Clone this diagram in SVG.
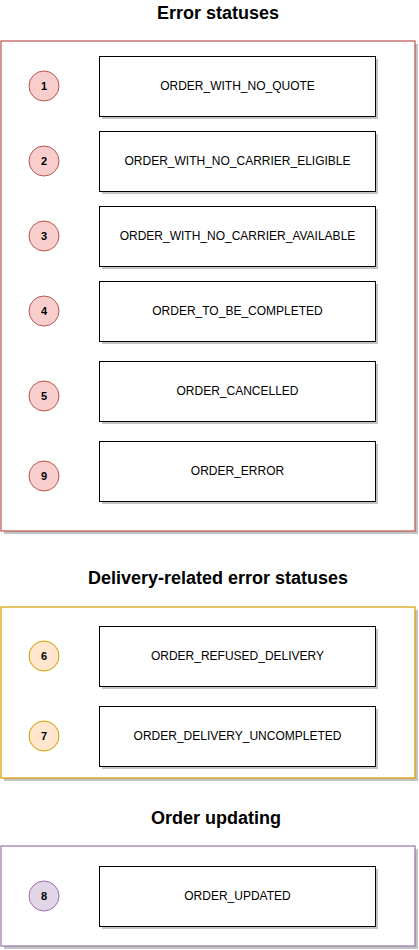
<svg xmlns="http://www.w3.org/2000/svg" width="419" height="950" viewBox="0 0 419 950">
<style>
.title{font-family:"Liberation Sans",Arial,sans-serif;font-weight:bold;font-size:18px;text-anchor:middle;fill:#000}
.lbl{font-family:"Liberation Sans",Arial,sans-serif;font-size:12px;text-anchor:middle;dominant-baseline:central;fill:#000}
.num{font-family:"Liberation Sans",Arial,sans-serif;font-weight:bold;font-size:11px;text-anchor:middle;dominant-baseline:central;fill:#000}
.box{fill:#fff;stroke:#000;stroke-width:1}
.shadow{fill:#c4c4c4}
.frame{fill:#fff;stroke-width:1.2}
.cr{fill:#f8cecc;stroke:#b85450}
.co{fill:#ffe6cc;stroke:#d79b00}
.cp{fill:#e1d5e7;stroke:#9673a6}
</style>
<text class="title" x="218" y="19">Error statuses</text>
<text class="title" x="218" y="584">Delivery-related error statuses</text>
<text class="title" x="216" y="824">Order updating</text>

<g id="frame-errors">
<rect class="shadow" x="4" y="44" width="414" height="490"/>
<rect class="frame" x="1" y="41" width="414" height="490" stroke="#b85450"/>
</g>
<g id="frame-delivery">
<rect class="shadow" x="4" y="610" width="414" height="171"/>
<rect class="frame" x="1" y="607" width="414" height="171" stroke="#d79b00"/>
</g>
<g id="frame-updating">
<rect class="shadow" x="4" y="849" width="414" height="100"/>
<rect class="frame" x="1" y="846" width="414" height="100" stroke="#9673a6"/>
</g>

<g id="connectors"></g>

<g id="n1"><rect class="shadow" x="102" y="59" width="276" height="60"/><rect class="box" x="99.5" y="56.5" width="276" height="60"/><text class="lbl" x="237.5" y="86">ORDER_WITH_NO_QUOTE</text></g>
<g id="c1"><circle class="cr" cx="44" cy="86" r="15"/><text class="num" x="44" y="86">1</text></g>

<g id="n2"><rect class="shadow" x="102" y="134" width="276" height="60"/><rect class="box" x="99.5" y="131.5" width="276" height="60"/><text class="lbl" x="237.5" y="161">ORDER_WITH_NO_CARRIER_ELIGIBLE</text></g>
<g id="c2"><circle class="cr" cx="44" cy="161" r="15"/><text class="num" x="44" y="161">2</text></g>

<g id="n3"><rect class="shadow" x="102" y="209" width="276" height="60"/><rect class="box" x="99.5" y="206.5" width="276" height="60"/><text class="lbl" x="237.5" y="236">ORDER_WITH_NO_CARRIER_AVAILABLE</text></g>
<g id="c3"><circle class="cr" cx="44" cy="236" r="15"/><text class="num" x="44" y="236">3</text></g>

<g id="n4"><rect class="shadow" x="102" y="284" width="276" height="60"/><rect class="box" x="99.5" y="281.5" width="276" height="60"/><text class="lbl" x="237.5" y="311">ORDER_TO_BE_COMPLETED</text></g>
<g id="c4"><circle class="cr" cx="44" cy="311" r="15"/><text class="num" x="44" y="311">4</text></g>

<g id="n5"><rect class="shadow" x="102" y="364" width="276" height="60"/><rect class="box" x="99.5" y="361.5" width="276" height="60"/><text class="lbl" x="237.5" y="391">ORDER_CANCELLED</text></g>
<g id="c5"><circle class="cr" cx="44" cy="396" r="15"/><text class="num" x="44" y="396">5</text></g>

<g id="n9"><rect class="shadow" x="102" y="444" width="276" height="60"/><rect class="box" x="99.5" y="441.5" width="276" height="60"/><text class="lbl" x="237.5" y="471">ORDER_ERROR</text></g>
<g id="c9"><circle class="cr" cx="44" cy="476" r="15"/><text class="num" x="44" y="476">9</text></g>

<g id="n6"><rect class="shadow" x="102" y="629" width="276" height="60"/><rect class="box" x="99.5" y="626.5" width="276" height="60"/><text class="lbl" x="237.5" y="656">ORDER_REFUSED_DELIVERY</text></g>
<g id="c6"><circle class="co" cx="44" cy="656" r="15"/><text class="num" x="44" y="656">6</text></g>

<g id="n7"><rect class="shadow" x="102" y="709" width="276" height="60"/><rect class="box" x="99.5" y="706.5" width="276" height="60"/><text class="lbl" x="237.5" y="736">ORDER_DELIVERY_UNCOMPLETED</text></g>
<g id="c7"><circle class="co" cx="44" cy="736" r="15"/><text class="num" x="44" y="736">7</text></g>

<g id="n8"><rect class="shadow" x="102" y="869" width="276" height="60"/><rect class="box" x="99.5" y="866.5" width="276" height="60"/><text class="lbl" x="237.5" y="896">ORDER_UPDATED</text></g>
<g id="c8"><circle class="cp" cx="44" cy="896" r="15"/><text class="num" x="44" y="896">8</text></g>
</svg>
